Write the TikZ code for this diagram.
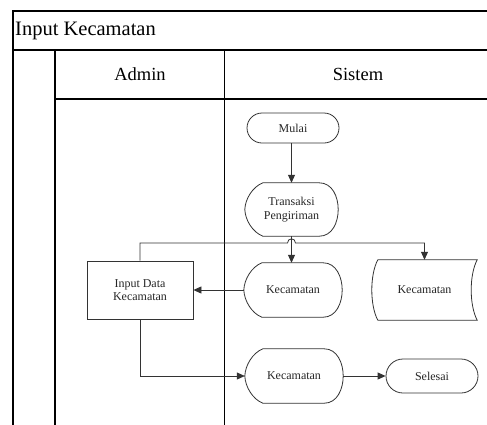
\documentclass[tikz,border=0pt]{standalone}
\usepackage{fontspec}
\setmainfont{Liberation Serif}
\usetikzlibrary{arrows.meta,calc,shapes.misc}

\tikzset{
  lane/.style={line width=1.2pt, draw=black},
  outline/.style={line width=0.8pt, draw=black!80},
  boxtext/.style={font=\fontsize{12}{13.5}\selectfont, text=black!85, align=center, inner sep=0pt},
  terminal/.style={boxtext, rounded rectangle, outline, minimum height=30pt, minimum width=92pt},
  procbox/.style={boxtext, rectangle, outline, minimum width=106pt, minimum height=58pt},
  shapebox/.style={boxtext, rectangle, draw=none},
  arr/.style={line width=0.8pt, draw=black!80, -{Triangle[length=8pt,width=7pt]}},
  link/.style={line width=0.8pt, draw=black!80},
}

% display symbol: curved left side meeting at a point, rounded right side
\newcommand\displayoutline[1]{%
  \draw[outline] let \p1=(#1.north west), \p2=(#1.south east), \p3=(#1.west) in
    (\x1+18pt,\y1) -- (\x2-19pt,\y1)
    .. controls (\x2-6pt,\y1) and (\x2,\y3+13pt) .. (\x2,\y3)
    .. controls (\x2,\y3-13pt) and (\x2-6pt,\y2) .. (\x2-19pt,\y2)
    -- (\x1+18pt,\y2)
    .. controls (\x1+8pt,\y2+4pt) and (\x1+0.5pt,\y3-11pt) .. (\x1,\y3)
    .. controls (\x1+0.5pt,\y3+11pt) and (\x1+8pt,\y1-4pt) .. cycle;}

% stored data symbol: both sides bowed to the left
\newcommand\storedoutline[1]{%
  \draw[outline] let \p1=(#1.north west), \p2=(#1.south east) in
    (\x1+6pt,\y1) -- (\x2,\y1)
    .. controls (\x2-8pt,\y1-15pt) and (\x2-8pt,\y2+15pt) .. (\x2,\y2)
    -- (\x1+6pt,\y2)
    .. controls (\x1-2pt,\y2+15pt) and (\x1-2pt,\y1-15pt) .. cycle;}

\begin{document}
\begin{tikzpicture}[x=1pt,y=-1pt]
  \useasboundingbox (0,0) rectangle (487,424);
  \clip (0,0) rectangle (487,424);

  % swimlane frame
  \draw[lane] (13,440) -- (13,11) -- (500,11);
  \draw[lane] (13,50) -- (500,50);
  \draw[lane] (55,99) -- (500,99);
  \draw[lane] (55,50) -- (55,440);
  \draw[lane] (224.5,50) -- (224.5,440);

  \node[anchor=west, inner sep=0pt, font=\fontsize{20.5}{23}\selectfont] (title) at (15,31) {Input Kecamatan};
  \node[inner sep=0pt, font=\fontsize{18.5}{21}\selectfont] (admin) at (140,74.5) {Admin};
  \node[inner sep=0pt, font=\fontsize{18.5}{21}\selectfont] (sistem) at (358,74.5) {Sistem};

  % flow nodes
  \node[terminal] (mulai) at (293,128) {Mulai};
  \node[shapebox, minimum width=93pt, minimum height=53pt] (trans) at (291.5,209.5) {Transaksi\\Pengiriman};
  \displayoutline{trans}
  \node[shapebox, minimum width=98pt, minimum height=54pt] (disp1) at (293,290) {Kecamatan};
  \displayoutline{disp1}
  \node[procbox] (inp) at (140,290) {Input Data\\Kecamatan};
  \node[shapebox, minimum width=105pt, minimum height=60pt] (store) at (424.5,290) {Kecamatan};
  \storedoutline{store}
  \node[shapebox, minimum width=98pt, minimum height=54pt] (disp2) at (294,376) {Kecamatan};
  \displayoutline{disp2}
  \node[terminal, minimum height=34pt] (selesai) at (432,376) {Selesai};

  % connectors
  \coordinate (bus) at (0,243);
  \draw[arr] (mulai.south -| trans) -- (trans.north);
  \draw[arr] (trans.south) -- (trans.south |- disp1.north);
  \draw[arr] (inp.north) -- (inp.north |- bus)
    -- ($(trans.south |- bus)+(-4,0)$)
    .. controls +(0,-5.5) and +(0,-5.5) .. ($(trans.south |- bus)+(4,0)$)
    -- (store.north |- bus) -- (store.north);
  \draw[arr] (disp1.west) -- (inp.east);
  \draw[arr] (inp.south) -- (inp.south |- disp2.west) -- (disp2.west);
  \draw[arr] (disp2.east) -- (selesai.west);
\end{tikzpicture}
\end{document}
